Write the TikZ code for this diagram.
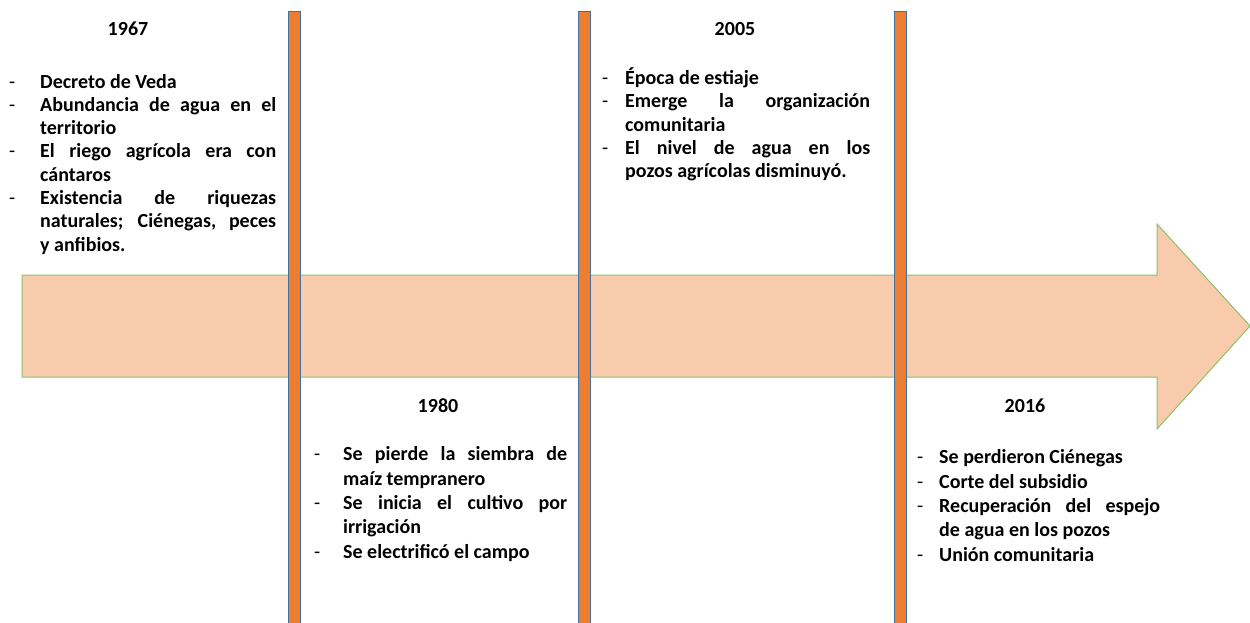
\documentclass[tikz,border=0pt]{standalone}
\usepackage{fontspec}
\setmainfont{Carlito}
\definecolor{barfill}{HTML}{ED7D31}
\definecolor{barline}{HTML}{41719C}
\definecolor{arrfill}{HTML}{F8CBAD}
\definecolor{arrline}{HTML}{8CC168}
\newcommand\bitem[2]{\hangindent=#1\hangafter=1\noindent\strut\makebox[#1][l]{\hspace{4pt}{\mdseries -}}#2\par}
\begin{document}
\begin{tikzpicture}[x=1pt,y=-1pt,
  year/.style={font=\fontsize{20}{24}\selectfont\bfseries, inner sep=0pt, anchor=base},
  listtop/.style={font=\fontsize{20}{23.3}\selectfont\bfseries, inner sep=0pt, anchor=north west, align=justify},
  listbot/.style={font=\fontsize{20}{24.4}\selectfont\bfseries, inner sep=0pt, anchor=north west, align=justify},
  bar/.style={fill=barfill, draw=barline, line width=1pt}]
\useasboundingbox (0,0) rectangle (1250,622);
\fill[white] (0,0) rectangle (1250,622);
\draw[fill=arrfill, draw=arrline, line width=1pt] (22,275) -- (1157,275) -- (1157,224) -- (1250,326) -- (1157,429) -- (1157,377) -- (22,377) -- cycle;
\draw[bar] (288,11) rectangle (300,630);
\draw[bar] (578,11) rectangle (590,630);
\draw[bar] (894,11) rectangle (906,630);

\node[year] (y1967) at (128,35) {1967};
\node[listtop, text width=271pt] (l1967) at (5,71.5) {%
\bitem{35pt}{Decreto de Veda}%
\bitem{35pt}{Abundancia de agua en el\linebreak territorio}%
\bitem{35pt}{El riego agrícola era con\linebreak cántaros}%
\bitem{35pt}{Existencia de riquezas\linebreak naturales; Ciénegas, peces\linebreak y anfibios.}};

\node[year] (y1980) at (438,412) {1980};
\node[listbot, text width=257pt] (l1980) at (310,443.5) {%
\bitem{33pt}{Se pierde la siembra de\linebreak maíz tempranero}%
\bitem{33pt}{Se inicia el cultivo por\linebreak irrigación}%
\bitem{33pt}{Se electrificó el campo}};

\node[year] (y2005) at (735,35) {2005};
\node[listtop, text width=272pt] (l2005) at (598,67.5) {%
\bitem{27pt}{Época de estiaje}%
\bitem{27pt}{Emerge la organización\linebreak comunitaria}%
\bitem{27pt}{El nivel de agua en los\linebreak pozos agrícolas disminuyó.}};

\node[year] (y2016) at (1025,412) {2016};
\node[listbot, text width=247pt] (l2016) at (913,446.5) {%
\bitem{26pt}{Se perdieron Ciénegas}%
\bitem{26pt}{Corte del subsidio}%
\bitem{26pt}{Recuperación del espejo\linebreak de agua en los pozos}%
\bitem{26pt}{Unión comunitaria}};
\end{tikzpicture}
\end{document}
